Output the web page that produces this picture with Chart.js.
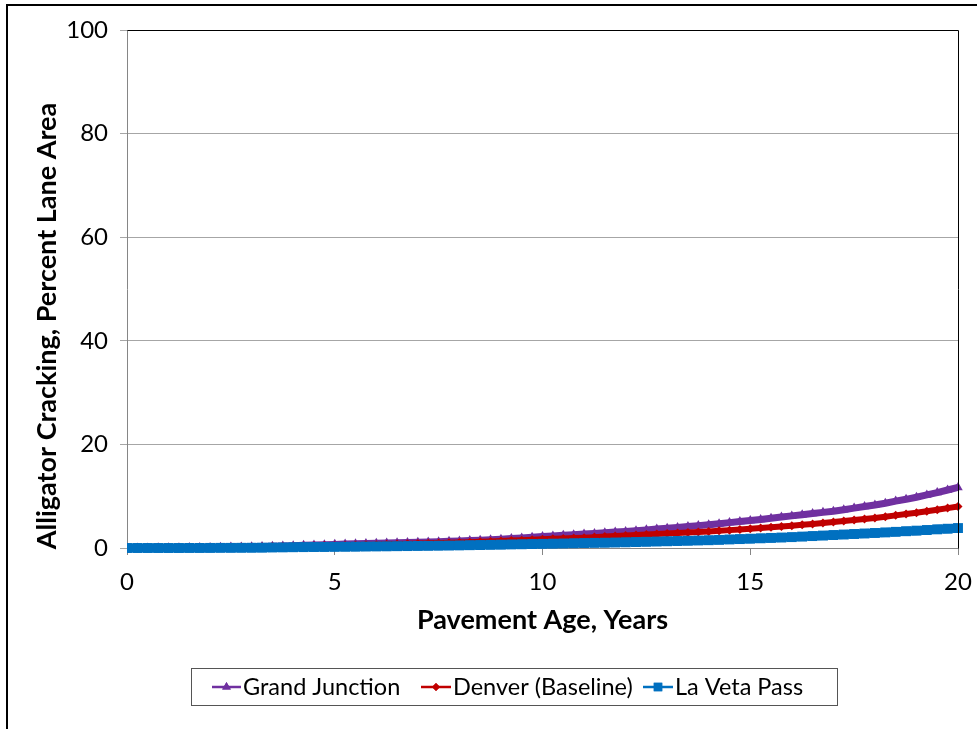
<!DOCTYPE html>
<html><head><meta charset="utf-8">
<script src="https://cdn.jsdelivr.net/npm/chart.js@4.4.0/dist/chart.umd.min.js"></script>
<style>html,body{margin:0;padding:0;background:#fff;}canvas{display:block}</style>
</head>
<body>
<canvas id="c" width="977" height="729"></canvas>
<script>
// Quarterly readings (years 0 .. 20 step 0.25), percent lane area
const grandJunction = [0,0.01,0.02,0.04,0.05, 0.06,0.08,0.09,0.1, 0.13,0.17,0.21,0.25, 0.3,0.35,0.4,0.45, 0.51,0.57,0.64,0.7,
  0.75,0.8,0.85,0.9, 0.95,1.0,1.05,1.1, 1.16,1.22,1.29,1.35, 1.43,1.52,1.61,1.7, 1.82,1.95,2.08,2.2,
  2.32,2.45,2.58,2.7, 2.82,2.95,3.08,3.2, 3.35,3.5,3.65,3.8, 3.97,4.15,4.32,4.5, 4.7,4.9,5.1,5.3,
  5.52,5.75,5.98,6.2, 6.42,6.65,6.88,7.1, 7.4,7.7,8.0,8.3, 8.65,9.05,9.4,9.8, 10.25,10.7,11.2,11.7];
const denver = [0,0.01,0.02,0.02,0.03, 0.04,0.05,0.07,0.08, 0.11,0.14,0.17,0.2, 0.24,0.28,0.31,0.35, 0.39,0.43,0.46,0.5,
  0.54,0.58,0.61,0.65, 0.7,0.75,0.8,0.85, 0.9,0.95,1.0,1.05, 1.12,1.2,1.27,1.35, 1.44,1.52,1.61,1.7,
  1.77,1.85,1.92,2.0, 2.1,2.2,2.3,2.4, 2.5,2.6,2.7,2.8, 2.9,3.0,3.1,3.2, 3.32,3.45,3.57,3.7,
  3.85,4.0,4.15,4.3, 4.47,4.65,4.82,5.0, 5.2,5.4,5.6,5.8, 6.05,6.3,6.55,6.8, 7.1,7.4,7.7,8.0];
const laVeta = [0,0,0,0,0, 0,0.01,0.01,0.02, 0.03,0.03,0.04,0.05, 0.07,0.1,0.12,0.15, 0.17,0.19,0.2,0.22,
  0.24,0.26,0.28,0.3, 0.32,0.35,0.37,0.4, 0.42,0.45,0.47,0.5, 0.54,0.57,0.61,0.65, 0.69,0.72,0.76,0.8,
  0.84,0.87,0.91,0.95, 0.99,1.02,1.06,1.1, 1.15,1.2,1.25,1.3, 1.35,1.4,1.45,1.5, 1.57,1.65,1.72,1.8,
  1.87,1.95,2.02,2.1, 2.2,2.3,2.4,2.5, 2.6,2.7,2.8,2.9, 3.01,3.12,3.24,3.35, 3.47,3.6,3.72,3.85];
const seriesNames = ['Grand Junction', 'Denver (Baseline)', 'La Veta Pass'];
const xTickValues = [0, 5, 10, 15, 20];
const yTickValues = [0, 20, 40, 60, 80, 100];
const xTitle = 'Pavement Age, Years';
const yTitle = 'Alligator Cracking, Percent Lane Area';

const years = grandJunction.map((_, i) => i / 4);
const FONT = 'Lato, "Open Sans", sans-serif';
const colors = ['#7030A0', '#C00000', '#0070C0'];
const styles = ['triangle', 'rectRot', 'rect'];
const radii = [5.5, 4.5, 7];
const widths = [7, 6, 9];
const legendRadii = [5, 4, 6];
const allSeries = [grandJunction, denver, laVeta];

const datasets = allSeries.map((arr, k) => ({
  label: seriesNames[k],
  data: arr.map((v, i) => ({ x: years[i], y: v })),
  borderColor: colors[k],
  backgroundColor: colors[k],
  pointStyle: styles[k],
  pointRadius: radii[k],
  pointBorderWidth: 0,
  borderWidth: widths[k],
  order: 3 - k,
  tension: 0,
  clip: { left: 0, top: 10, right: 10, bottom: 10 }
}));

const decor = {
  id: 'decor',
  afterDraw(chart) {
    const ctx = chart.ctx;
    const a = chart.chartArea;
    ctx.save();
    ctx.strokeStyle = '#000';
    ctx.lineWidth = 2;
    ctx.beginPath();
    ctx.moveTo(7, 729); ctx.lineTo(7, 5); ctx.lineTo(977, 5);
    ctx.stroke();
    ctx.lineWidth = 1;
    ctx.beginPath();
    ctx.moveTo(Math.round(a.left) + 0.5, Math.round(a.top) + 0.5);
    ctx.lineTo(Math.round(a.right) + 0.5, Math.round(a.top) + 0.5);
    ctx.lineTo(Math.round(a.right) + 0.5, Math.round(a.bottom) + 0.5);
    ctx.stroke();
    ctx.fillStyle = '#000';
    ctx.font = 'bold 27px ' + FONT;
    ctx.textAlign = 'center';
    ctx.textBaseline = 'middle';
    ctx.fillText(xTitle, (a.left + a.right) / 2, 620);
    ctx.save();
    ctx.translate(47, 326);
    ctx.rotate(-Math.PI / 2);
    ctx.fillText(yTitle, 0, 0);
    ctx.restore();
    ctx.strokeStyle = '#555';
    ctx.lineWidth = 1;
    ctx.strokeRect(191.5, 668.5, 646, 37);
    const items = [[212, 241], [421, 451], [643, 673]];
    ctx.font = '23.5px ' + FONT;
    ctx.textAlign = 'left';
    items.forEach((it, k) => {
      const y = 687;
      ctx.strokeStyle = colors[k];
      ctx.lineWidth = 2.5;
      ctx.beginPath(); ctx.moveTo(it[0], y); ctx.lineTo(it[1], y); ctx.stroke();
      ctx.fillStyle = colors[k];
      Chart.helpers.drawPoint(ctx, { pointStyle: styles[k], radius: legendRadii[k], borderWidth: 0, rotation: 0 }, (it[0] + it[1]) / 2, y);
      ctx.fill();
      ctx.fillStyle = '#000';
      ctx.fillText(seriesNames[k], it[1] + 2, y);
    });
    ctx.restore();
  }
};

new Chart(document.getElementById('c'), {
  type: 'line',
  data: { datasets },
  options: {
    responsive: false,
    animation: false,
    layout: { padding: { left: 0, top: 30, right: 19, bottom: 0 } },
    plugins: { legend: { display: false }, tooltip: { enabled: false } },
    scales: {
      x: {
        type: 'linear', min: 0, max: 20,
        afterBuildTicks: s => { s.ticks = xTickValues.map(v => ({ value: v })); },
        afterFit: s => { s.height = 181; s.paddingLeft = 0; s.paddingRight = 0; },
        ticks: { color: '#000', font: { family: FONT, size: 24 }, padding: 13, maxRotation: 0 },
        grid: { drawOnChartArea: false, tickLength: 7, color: '#868686' },
        border: { color: '#868686' }
      },
      y: {
        min: 0, max: 100,
        afterBuildTicks: s => { s.ticks = yTickValues.map(v => ({ value: v })); },
        afterFit: s => { s.width = 127; s.paddingTop = 0; s.paddingBottom = 0; },
        ticks: { color: '#000', font: { family: FONT, size: 24 }, padding: 12 },
        grid: { tickLength: 7, color: '#A6A6A6' },
        border: { color: '#868686' }
      }
    }
  },
  plugins: [decor]
});
</script>
</body></html>
